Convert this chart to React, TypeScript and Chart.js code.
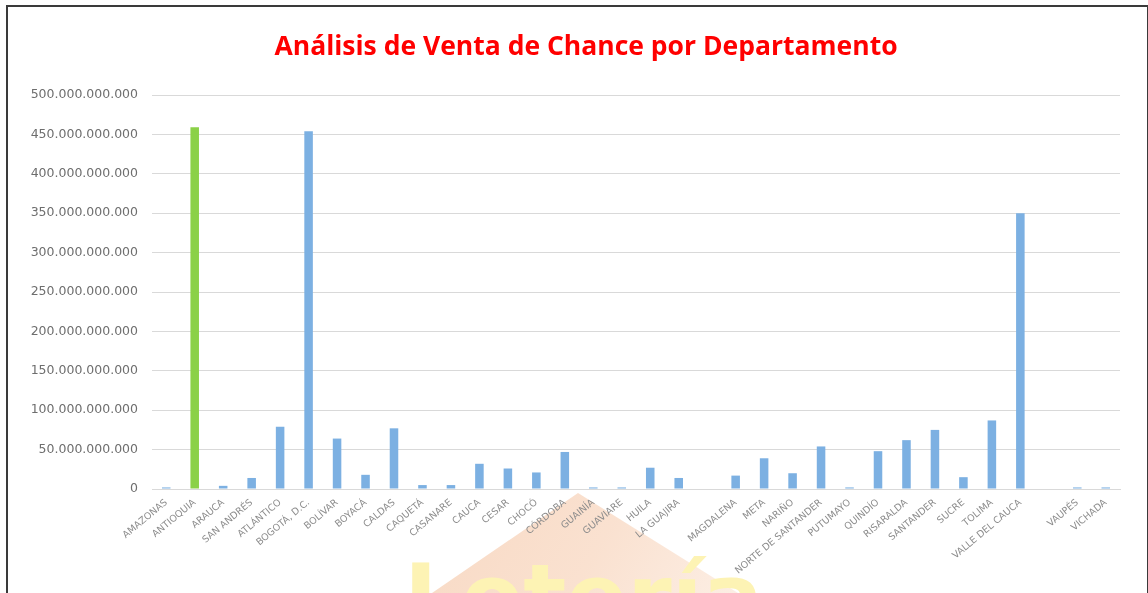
import React, { useEffect, useRef } from "react";
import { Chart, registerables } from "chart.js";

Chart.register(...registerables);

const chartTitle = "Análisis de Venta de Chance por Departamento";

const departamentos: string[] = [
  "AMAZONAS", "ANTIOQUIA", "ARAUCA", "SAN ANDRÉS", "ATLÁNTICO", "BOGOTÁ, D.C.",
  "BOLÍVAR", "BOYACÁ", "CALDAS", "CAQUETÁ", "CASANARE", "CAUCA", "CESAR",
  "CHOCÓ", "CÓRDOBA", "GUAINÍA", "GUAVIARE", "HUILA", "LA GUAJIRA", "",
  "MAGDALENA", "META", "NARIÑO", "NORTE DE SANTANDER", "PUTUMAYO", "QUINDÍO",
  "RISARALDA", "SANTANDER", "SUCRE", "TOLIMA", "VALLE DEL CAUCA", "",
  "VAUPÉS", "VICHADA",
];

const ventas: (number | null)[] = [
  2_000_000_000, 459_000_000_000, 4_000_000_000, 14_000_000_000, 79_000_000_000,
  454_000_000_000, 64_000_000_000, 18_000_000_000, 77_000_000_000, 5_000_000_000,
  5_000_000_000, 32_000_000_000, 26_000_000_000, 21_000_000_000, 47_000_000_000,
  2_000_000_000, 2_000_000_000, 27_000_000_000, 14_000_000_000, null,
  17_000_000_000, 39_000_000_000, 20_000_000_000, 54_000_000_000, 2_000_000_000,
  48_000_000_000, 62_000_000_000, 75_000_000_000, 15_000_000_000, 87_000_000_000,
  350_000_000_000, null, 2_000_000_000, 2_000_000_000,
];

const destacado = "ANTIOQUIA";
const yMax = 500_000_000_000;
const yStep = 50_000_000_000;

const BLUE = "#7cb0e2";
const GREEN = "#8bd148";

function formatMiles(v: number): string {
  return String(Math.round(v)).replace(/\B(?=(\d{3})+(?!\d))/g, ".");
}

const titlePlugin = {
  id: "tituloCentrado",
  afterDraw(chart: any) {
    const ctx = chart.ctx;
    ctx.save();
    ctx.font = "bold 26.5px 'Open Sans', 'DejaVu Sans', sans-serif";
    ctx.fillStyle = "#ff0000";
    ctx.textAlign = "center";
    ctx.textBaseline = "alphabetic";
    ctx.fillText(chartTitle, 586, 55);
    ctx.restore();
  },
};

export default function App() {
  const canvasRef = useRef<HTMLCanvasElement | null>(null);

  useEffect(() => {
    if (!canvasRef.current) return;
    const chart = new Chart(canvasRef.current, {
      type: "bar",
      data: {
        labels: departamentos,
        datasets: [
          {
            label: "Venta",
            data: ventas,
            backgroundColor: departamentos.map((d) => (d === destacado ? GREEN : BLUE)),
            barPercentage: 0.3,
            categoryPercentage: 1,
          },
        ],
      },
      plugins: [titlePlugin],
      options: {
        responsive: false,
        animation: false,
        layout: { padding: { left: 0, right: 28, top: 95, bottom: 0 } },
        plugins: {
          legend: { display: false },
          tooltip: { enabled: false },
          title: { display: false },
        },
        scales: {
          x: {
            grid: { display: false, drawTicks: false },
            border: { display: true, color: "#d9d9d9" },
            ticks: {
              autoSkip: false,
              maxRotation: 40,
              minRotation: 40,
              padding: 8,
              color: "#8c8c8c",
              font: { family: "'DejaVu Sans', sans-serif", size: 9.5 },
            },
            afterFit: (scale: any) => {
              scale.height = 104;
            },
          },
          y: {
            min: 0,
            max: yMax,
            ticks: {
              stepSize: yStep,
              padding: 14,
              color: "#6e6e6e",
              font: { family: "'DejaVu Sans', sans-serif", size: 12.5 },
              callback: (v: any) => formatMiles(Number(v)),
            },
            grid: { color: "#d9d9d9", drawTicks: false },
            border: { display: false },
            afterFit: (scale: any) => {
              scale.width = 152;
            },
          },
        },
      },
    });
    return () => chart.destroy();
  }, []);

  return (
    <div
      style={{
        position: "absolute",
        left: 0,
        top: 0,
        width: 1148,
        height: 593,
        overflow: "hidden",
        background: "#ffffff",
      }}
    >
      <div
        style={{
          position: "absolute",
          left: 432,
          top: 493,
          width: 306,
          height: 100,
          background: "linear-gradient(120deg, #f7d3ba 0%, #f9dcc8 55%, #fcebdf 100%)",
          clipPath: "polygon(146px 0px, 100% 100%, 0% 100%)",
          opacity: 0.85,
        }}
      />
      <div
        style={{
          position: "absolute",
          left: 404,
          top: 553,
          fontFamily: "'DejaVu Sans', sans-serif",
          fontWeight: "bold",
          fontSize: 90,
          lineHeight: 1,
          color: "#fdf3b4",
          whiteSpace: "nowrap",
        }}
      >
        Lotería
      </div>
      <div
        style={{
          position: "absolute",
          left: 6,
          top: 5,
          width: 1139,
          height: 600,
          borderLeft: "2px solid #3a3a3a",
          borderTop: "2px solid #3a3a3a",
          borderRight: "2px solid #3a3a3a",
        }}
      />
      <canvas
        ref={canvasRef}
        width={1148}
        height={593}
        style={{ position: "absolute", left: 0, top: 0, width: 1148, height: 593 }}
      />
    </div>
  );
}
